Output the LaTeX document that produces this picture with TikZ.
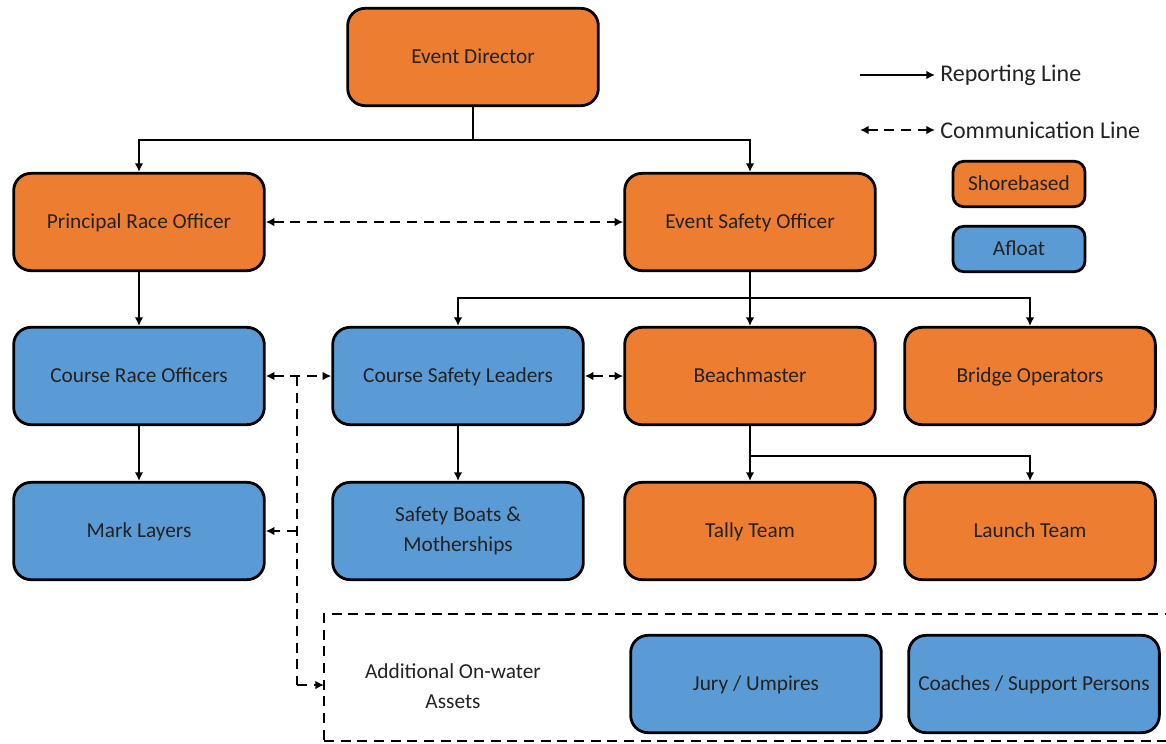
\documentclass[tikz,border=0pt]{standalone}
\usepackage{fontspec}
\setmainfont{Carlito}
\usetikzlibrary{arrows.meta}
\definecolor{shorec}{HTML}{ED7D31}
\definecolor{afloatc}{HTML}{5B9BD5}
\definecolor{txt}{HTML}{222222}
\begin{document}
\begin{tikzpicture}[x=0.75pt,y=-0.75pt,
  box/.style={draw=black, line width=2.1pt, rounded corners=13pt,
    minimum width=188pt, minimum height=73pt, align=center,
    font=\fontsize{16}{23}\selectfont, text=txt, text height=13pt, text depth=3pt},
  twoline/.style={text height={}, text depth={}},
  shore/.style={box, fill=shorec},
  afl/.style={box, fill=afloatc},
  legbox/.style={box, minimum width=99pt, minimum height=34pt, rounded corners=8pt},
  rep/.style={line width=2.1pt, -{Latex[length=6.5pt,width=6.5pt]}},
  comm/.style={line width=2.1pt, dash pattern=on 7.5pt off 5pt, {Latex[length=6.5pt,width=6.5pt]}-{Latex[length=6.5pt,width=6.5pt]}},
  comm1/.style={line width=2.1pt, dash pattern=on 7.5pt off 5pt, -{Latex[length=6.5pt,width=6.5pt]}},
  line/.style={line width=2.1pt},
  leg/.style={font=\fontsize{18}{22}\selectfont, text=txt, anchor=west, inner sep=0pt}
]
\useasboundingbox (0,0) rectangle (1166,743);
\clip (0,0) rectangle (1166,743);

% nodes
\node[shore] (ed) at (473,57) {Event Director};
\node[shore] (pro) at (139,222) {Principal Race Officer};
\node[shore] (eso) at (750,222) {Event Safety Officer};
\node[afl] (cro) at (139,376) {Course Race Officers};
\node[afl] (csl) at (458,376) {Course Safety Leaders};
\node[shore] (bm) at (750,376) {Beachmaster};
\node[shore] (bo) at (1030,376) {Bridge Operators};
\node[afl] (ml) at (139,531) {Mark Layers};
\node[afl, twoline] (sb) at (458,531) {Safety Boats \&\\Motherships};
\node[shore] (tt) at (750,531) {Tally Team};
\node[shore] (lt) at (1030,531) {Launch Team};
\node[afl] (ju) at (756,684) {Jury / Umpires};
\node[afl] (co) at (1034,684) {Coaches / Support Persons};

% additional assets box
\coordinate (abtl) at (324,614);
\draw[line width=2.1pt, dash pattern=on 7.5pt off 5pt] (1175,614) -- (abtl) -- (324,750);
\draw[line width=2.1pt, dash pattern=on 7.5pt off 5pt] (324,741) -- (1175,741);
\node[align=center, font=\fontsize{16}{23}\selectfont, text=txt] (add) at (453,686) {Additional On-water\\Assets};
\coordinate (addl) at (324,685);

% reporting lines
\draw[line] (ed.south) -- (473,140) coordinate (j1);
\draw[rep] (j1) -| (pro.north);
\draw[rep] (j1) -| (eso.north);
\draw[rep] (pro) -- (cro);
\draw[line] (eso.south) -- (750,298) coordinate (j2);
\draw[rep] (j2) -| (csl.north);
\draw[rep] (j2) -- (bm.north);
\draw[rep] (j2) -| (bo.north);
\draw[rep] (cro) -- (ml);
\draw[rep] (csl) -- (sb);
\draw[line] (bm.south) -- (750,456) coordinate (j3);
\draw[rep] (j3) -- (tt.north);
\draw[rep] (j3) -| (lt.north);

% communication lines
\draw[comm] (pro.east) -- (eso.west);
\draw[comm] (csl.east) -- (bm.west);
\draw[comm] (cro.east) -- (csl.west);
\coordinate (v1) at (297,376);
\coordinate (v2) at (297,685);
\draw[line width=2.1pt, dash pattern=on 7.5pt off 5pt] (v1) -- (v2);
\draw[comm1] (v2) -- (addl);
\draw[comm1] (297,531) coordinate (v3) -- (ml.east);

% legend
\coordinate (l1a) at (860,75);
\coordinate (l1b) at (935,75);
\draw[rep] (l1a) -- (l1b);
\node[leg] (lrep) at (940,75) {Reporting Line};
\coordinate (l2a) at (860,130);
\coordinate (l2b) at (935,130);
\draw[comm] (l2a) -- (l2b);
\node[leg] (lcom) at (940,130) {Communication Line};
\node[legbox, fill=shorec] (lsh) at (1019,184) {Shorebased};
\node[legbox, fill=afloatc] (laf) at (1019,249) {Afloat};
\end{tikzpicture}
\end{document}
